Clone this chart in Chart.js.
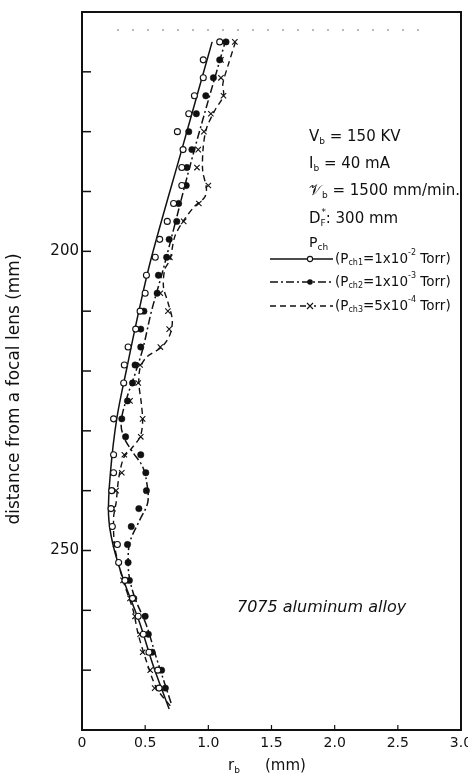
<!DOCTYPE html>
<html>
<head>
<meta charset="utf-8">
<script src="https://cdn.jsdelivr.net/npm/chart.js@4.4.1/dist/chart.umd.min.js"></script>
<style>
  html, body { margin: 0; padding: 0; background: #fff; }
  #wrap { width: 468px; height: 776px; }
</style>
</head>
<body>
<div id="wrap"><canvas id="chart" width="468" height="776"></canvas></div>
<script>
// distance from the focal lens (mm) at which r_b was measured
const depths = [165, 168, 171, 174, 177, 180, 183, 186, 189, 192,
  195, 198, 201, 204, 207, 210, 213, 216, 219, 222,
  225, 228, 231, 234, 237, 240, 243, 246, 249, 252,
  255, 258, 261, 264, 267, 270, 273];

// r_b (mm), Pch1 = 1x10^-2 Torr (open circles)
const rOpen = [1.09, 0.96, 0.96, 0.89, 0.845, 0.755, 0.80, 0.79, 0.79, 0.725,
  0.675, 0.615, 0.58, 0.51, 0.50, 0.46, 0.425, 0.365, 0.335, 0.33,
  null, 0.25, null, 0.25, 0.25, 0.235, 0.23, 0.24, 0.28, 0.29,
  0.34, 0.40, 0.445, 0.485, 0.53, 0.60, 0.61];

// r_b (mm), Pch2 = 1x10^-3 Torr (filled circles)
const rFilled = [1.14, 1.09, 1.04, 0.98, 0.905, 0.845, 0.87, 0.83, 0.825, 0.765,
  0.75, 0.69, 0.67, 0.605, 0.595, 0.49, 0.465, 0.465, 0.42, 0.40,
  0.36, 0.315, 0.345, 0.465, 0.505, 0.51, 0.45, 0.39, 0.36, 0.365,
  0.375, 0.41, 0.50, 0.525, 0.555, 0.63, 0.66];

// r_b (mm), Pch3 = 5x10^-4 Torr (crosses)
const rCross = [1.21, 1.10, 1.10, 1.12, 1.02, 0.965, 0.92, 0.91, 1.00, 0.925,
  0.805, null, 0.695, null, 0.62, 0.68, 0.69, 0.62, 0.46, 0.445,
  0.38, 0.48, 0.465, 0.335, 0.315, 0.27, 0.245, null, 0.265, null,
  0.325, 0.38, 0.42, 0.46, 0.48, 0.54, 0.575];

// hand-drawn fitted curves through each set
const fit1D = [165, 183, 201, 210, 219, 228, 237, 244, 249, 255, 262, 269, 276.5];
const fit1R = [1.03, 0.79, 0.55, 0.45, 0.36, 0.275, 0.225, 0.21, 0.245, 0.33, 0.455, 0.56, 0.69];

const fit2D = [164.5, 183, 200, 204, 210, 216, 220.5, 224.5, 228.5, 231, 233.5,
  236, 239, 242, 245, 248.5, 251.5, 254.5, 258, 262.5, 268, 275.5];
const fit2R = [1.14, 0.89, 0.68, 0.63, 0.55, 0.485, 0.42, 0.355, 0.31, 0.33, 0.40,
  0.48, 0.515, 0.52, 0.455, 0.38, 0.365, 0.375, 0.42, 0.51, 0.59, 0.705];

const fit3D = [165, 169, 172, 174, 176.5, 179.5, 182.5, 186.5, 189.5, 191,
  192.5, 195, 197.5, 201.5, 203, 206, 208.5, 211.5, 214, 216,
  217.7, 219.5, 222, 225.5, 228.5, 231, 233, 234.5, 238, 242,
  244.5, 249.5, 255, 260, 264, 268.5, 273, 276];
const fit3R = [1.215, 1.155, 1.115, 1.12, 1.05, 0.985, 0.96, 0.955, 0.985, 0.97,
  0.89, 0.80, 0.735, 0.695, 0.655, 0.645, 0.68, 0.715, 0.695, 0.63,
  0.51, 0.46, 0.45, 0.47, 0.48, 0.46, 0.39, 0.33, 0.29, 0.27,
  0.25, 0.26, 0.325, 0.405, 0.445, 0.51, 0.59, 0.70];

const yLabels = [200, 250];

const ink = "#111";
const FONT = '"DejaVu Sans", "Liberation Sans", sans-serif';

const dashDot = [8, 3, 2, 3];
const dashed = [6, 4];

function pairs(ds, rs) {
  const out = [];
  ds.forEach((d, i) => { if (rs[i] != null) out.push({ x: rs[i], y: d }); });
  return out;
}

// text with sub/superscripts, returns the x where it ended
function rich(ctx, x, y, parts, size) {
  parts.forEach(p => {
    const small = p.sub || p.sup;
    const s = small ? Math.round(size * 0.62) : size;
    ctx.font = `${p.it ? "italic " : ""}${s}px ${FONT}`;
    const dy = p.sub ? size * 0.3 : p.sup ? -size * 0.45 : 0;
    ctx.fillText(p.t, x + (p.dx || 0), y + dy);
    if (!p.noAdvance) x += ctx.measureText(p.t).width + (p.dx || 0);
  });
  return x;
}

function sample(ctx, x0, x1, mx, y, dash, mark) {
  ctx.save();
  ctx.lineWidth = 1.4;
  ctx.setLineDash(dash);
  ctx.beginPath(); ctx.moveTo(x0, y); ctx.lineTo(x1, y); ctx.stroke();
  ctx.setLineDash([]);
  ctx.lineWidth = 1.1;
  if (mark === "open") {
    ctx.fillStyle = "#fff";
    ctx.beginPath(); ctx.arc(mx, y, 2.6, 0, Math.PI * 2); ctx.fill(); ctx.stroke();
  } else if (mark === "filled") {
    ctx.fillStyle = ink;
    ctx.beginPath(); ctx.arc(mx, y, 2.8, 0, Math.PI * 2); ctx.fill();
  } else {
    ctx.fillStyle = "#fff";
    ctx.fillRect(mx - 4, y - 3, 8, 6);
    ctx.beginPath();
    ctx.moveTo(mx - 3, y - 3); ctx.lineTo(mx + 3, y + 3);
    ctx.moveTo(mx + 3, y - 3); ctx.lineTo(mx - 3, y + 3);
    ctx.stroke();
  }
  ctx.restore();
}

const decor = {
  id: "decor",
  afterDraw(chart) {
    const { ctx, chartArea: a, scales } = chart;
    ctx.save();
    ctx.strokeStyle = ink;
    ctx.fillStyle = ink;

    // frame
    ctx.lineWidth = 2;
    ctx.strokeRect(a.left, a.top, a.right - a.left, a.bottom - a.top);

    // inward ticks on both axes
    ctx.lineWidth = 1.5;
    scales.y.ticks.forEach(t => {
      const py = scales.y.getPixelForValue(t.value);
      ctx.beginPath(); ctx.moveTo(a.left, py); ctx.lineTo(a.left + 9, py); ctx.stroke();
    });
    ctx.lineWidth = 1.2;
    scales.x.ticks.forEach(t => {
      const px = scales.x.getPixelForValue(t.value);
      ctx.beginPath(); ctx.moveTo(px, a.bottom); ctx.lineTo(px, a.bottom - 5); ctx.stroke();
    });

    // faint dotted rule under the top edge
    ctx.save();
    ctx.lineWidth = 1;
    ctx.strokeStyle = "#777";
    ctx.setLineDash([2, 13]);
    ctx.beginPath(); ctx.moveTo(117, a.top + 18); ctx.lineTo(428, a.top + 18); ctx.stroke();
    ctx.restore();

    ctx.textBaseline = "middle";
    ctx.textAlign = "left";

    // run conditions
    const tx = 309;
    rich(ctx, tx, 137, [{ t: "V" }, { t: "b", sub: true }, { t: " = 150 KV" }], 15);
    rich(ctx, tx, 164, [{ t: "I" }, { t: "b", sub: true }, { t: " = 40 mA" }], 15);
    rich(ctx, tx, 191, [{ t: "\u{1D4B1}" }, { t: "b", sub: true }, { t: " = 1500 mm/min." }], 15);
    rich(ctx, tx, 219, [{ t: "D" }, { t: "*", sup: true, noAdvance: true, dx: 1 }, { t: "F", sub: true }, { t: ": 300 mm" }], 15);
    rich(ctx, tx, 243, [{ t: "P" }, { t: "ch", sub: true }], 14);

    // key
    const rows = [
      { y: 259, dash: [], mark: "open", n: "ch1", v: "1x10", e: "-2" },
      { y: 282, dash: dashDot, mark: "filled", n: "ch2", v: "1x10", e: "-3" },
      { y: 306, dash: dashed, mark: "cross", n: "ch3", v: "5x10", e: "-4" }
    ];
    rows.forEach(r => {
      sample(ctx, 270, 333, 310, r.y, r.dash, r.mark);
      ctx.fillStyle = ink;
      rich(ctx, 335, r.y, [{ t: "(P" }, { t: r.n, sub: true }, { t: "=" + r.v }, { t: r.e, sup: true }, { t: " Torr)" }], 13.5);
    });

    // material
    ctx.font = `italic 16px ${FONT}`;
    ctx.fillText("7075 aluminum alloy", 237, 608);

    // x title
    rich(ctx, 228, 766, [{ t: "r" }, { t: "b", sub: true }], 15);
    ctx.font = `15px ${FONT}`;
    ctx.fillText("(mm)", 265, 766);

    // y title
    ctx.font = `17px ${FONT}`;
    ctx.translate(15, 389);
    ctx.rotate(-Math.PI / 2);
    ctx.textAlign = "center";
    ctx.fillText("distance from a focal lens (mm)", 0, 0);
    ctx.restore();
  }
};

new Chart(document.getElementById("chart"), {
  type: "scatter",
  data: {
    datasets: [
      {
        label: "Pch1 points",
        data: pairs(depths, rOpen),
        pointStyle: "circle",
        pointRadius: 3,
        pointBackgroundColor: "#fff",
        pointBorderColor: ink,
        pointBorderWidth: 1.1,
        showLine: false
      },
      {
        label: "Pch2 points",
        data: pairs(depths, rFilled),
        pointStyle: "circle",
        pointRadius: 3.2,
        pointBackgroundColor: ink,
        pointBorderColor: ink,
        pointBorderWidth: 0.5,
        showLine: false
      },
      {
        label: "Pch3 points",
        data: pairs(depths, rCross),
        pointStyle: "crossRot",
        pointRadius: 3.8,
        pointBorderColor: ink,
        pointBorderWidth: 1.1,
        showLine: false
      },
      {
        label: "Pch1 fit",
        data: pairs(fit1D, fit1R),
        showLine: true,
        pointRadius: 0,
        borderColor: ink,
        borderWidth: 1.5,
        tension: 0.35
      },
      {
        label: "Pch2 fit",
        data: pairs(fit2D, fit2R),
        showLine: true,
        pointRadius: 0,
        borderColor: ink,
        borderWidth: 1.5,
        borderDash: dashDot,
        tension: 0.35
      },
      {
        label: "Pch3 fit",
        data: pairs(fit3D, fit3R),
        showLine: true,
        pointRadius: 0,
        borderColor: ink,
        borderWidth: 1.4,
        borderDash: dashed,
        tension: 0.3
      }
    ]
  },
  options: {
    responsive: false,
    animation: false,
    layout: { padding: { top: 12, right: 7, left: 0, bottom: 0 } },
    plugins: { legend: { display: false }, tooltip: { enabled: false } },
    scales: {
      x: {
        type: "linear",
        min: 0,
        max: 3,
        grid: { display: false, drawTicks: false },
        border: { display: false },
        afterFit: s => { s.height = 46; s.paddingLeft = 0; s.paddingRight = 0; },
        ticks: {
          stepSize: 0.5,
          autoSkip: false,
          maxRotation: 0,
          padding: 5,
          color: ink,
          font: { family: FONT, size: 14 },
          callback: v => (v === 0 ? "0" : v.toFixed(1))
        }
      },
      y: {
        type: "linear",
        reverse: true,
        min: 160,
        max: 280,
        grid: { display: false, drawTicks: false },
        border: { display: false },
        afterFit: s => { s.width = 82; s.paddingTop = 0; s.paddingBottom = 0; },
        ticks: {
          stepSize: 10,
          autoSkip: false,
          padding: 3,
          color: ink,
          font: { family: FONT, size: 15 },
          callback: v => (yLabels.includes(v) ? String(v) : "")
        }
      }
    }
  },
  plugins: [decor]
});
</script>
</body>
</html>
